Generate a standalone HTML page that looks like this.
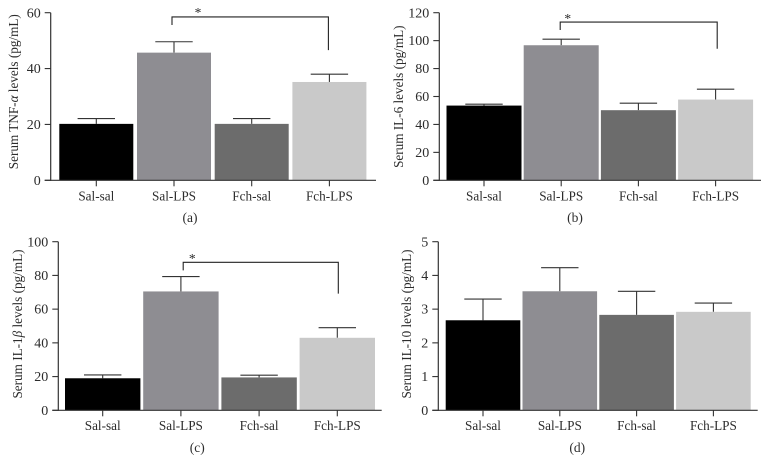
<!DOCTYPE html>
<html>
<head>
<meta charset="utf-8">
<style>
html,body{margin:0;padding:0;background:#fff;width:769px;height:462px;overflow:hidden}
svg{display:block}
text{font-family:"Liberation Serif",serif;fill:#2c2c2c}
</style>
</head>
<body>
<svg id="figure" width="769" height="462" viewBox="0 0 769 462" xmlns="http://www.w3.org/2000/svg"></svg>
<script>
const categories = ['Sal-sal', 'Sal-LPS', 'Fch-sal', 'Fch-LPS'];
const barColors = ['#000000', '#8e8d92', '#6c6c6c', '#c9c9c9'];

const tnfValues = [20.2, 45.7, 20.2, 35.2];
const tnfErrorTops = [22.1, 49.6, 22.1, 38];
const tnfTicks = [0, 20, 40, 60];

const il6Values = [53.5, 96.7, 50.2, 57.8];
const il6ErrorTops = [54.5, 101, 55.2, 65.2];
const il6Ticks = [0, 20, 40, 60, 80, 100, 120];

const il1Values = [19, 70.5, 19.5, 43];
const il1ErrorTops = [21, 79.3, 20.8, 49];
const il1Ticks = [0, 20, 40, 60, 80, 100];

const il10Values = [2.67, 3.53, 2.83, 2.92];
const il10ErrorTops = [3.3, 4.23, 3.53, 3.18];
const il10Ticks = [0, 1, 2, 3, 4, 5];

const tnfBracket = [58.5, 55.6, 46.6];
const il6Bracket = [113.3, 107.6, 94.2];
const il1Bracket = [87.8, 83, 69.2];

const panels = [
  {key:'a', title:'Serum TNF-', greek:'α', rest:' levels (pg/mL)', values:tnfValues, tops:tnfErrorTops, ticks:tnfTicks, bracket:tnfBracket,
   x0:50.7, xEnd:376, first:96.3, step:77.7, barW:74, yB:180.3, yT:12.7, titleX:18, titleY:91.7, subX:190, subY:222, tickY:200.5, offL:-2, offR:-1, starX:198, starY:17},
  {key:'b', title:'Serum IL-6 levels (pg/mL)', greek:'', rest:'', values:il6Values, tops:il6ErrorTops, ticks:il6Ticks, bracket:il6Bracket,
   x0:439.3, xEnd:761, first:484, step:77.2, barW:75, yB:180.3, yT:12.7, titleX:403, titleY:96.7, subX:575, subY:222, tickY:200.5, offL:-1, offR:1.6, starX:567.7, starY:23},
  {key:'c', title:'Serum IL-1', greek:'β', rest:' levels (pg/mL)', values:il1Values, tops:il1ErrorTops, ticks:il1Ticks, bracket:il1Bracket,
   x0:58.3, xEnd:381.7, first:102.7, step:78.2, barW:75.4, yB:410.3, yT:241.7, titleX:22, titleY:324, subX:197.3, subY:452, tickY:430, offL:2.3, offR:1, starX:192.3, starY:263},
  {key:'d', title:'Serum IL-10 levels (pg/mL)', greek:'', rest:'', values:il10Values, tops:il10ErrorTops, ticks:il10Ticks, bracket:null,
   x0:438.3, xEnd:757.7, first:483, step:76.8, barW:74.6, yB:410.3, yT:241.7, titleX:411, titleY:324, subX:577.3, subY:452, tickY:430}
];

const svg = document.getElementById('figure');
const NS = 'http://www.w3.org/2000/svg';
function make(tag, attrs, parent) {
  const el = document.createElementNS(NS, tag);
  for (const k in attrs) el.setAttribute(k, attrs[k]);
  parent.appendChild(el);
  return el;
}

panels.forEach(function (p) {
  const maxTick = p.ticks[p.ticks.length - 1];
  const yScale = function (v) { return p.yB - (v / maxTick) * (p.yB - p.yT); };
  const xScale = function (i) { return p.first + i * p.step; };

  const g = make('g', {}, svg);
  
  

  p.values.forEach(function (v, i) {
    const cx = xScale(i);
    const errTop = yScale(p.tops[i]);
    const barTop = yScale(v);

    const stem = make('line', {x1:cx, x2:cx, y1:errTop, y2:barTop, stroke:'#333', 'stroke-width':1.1}, g);
    
    

    const cap = make('line', {x1:cx - 18.7, x2:cx + 18.7, y1:errTop, y2:errTop, stroke:'#333', 'stroke-width':1.1}, g);
    
    

    const bar = make('rect', {x:cx - p.barW / 2, y:barTop, width:p.barW, height:p.yB - barTop, fill:barColors[i]}, g);
    
    

    const tick = make('line', {x1:cx, x2:cx, y1:p.yB, y2:p.yB + 6, stroke:'#333', 'stroke-width':1.1}, g);
    
    

    const label = make('text', {x:cx, y:p.tickY, 'text-anchor':'middle', 'font-size':13.2}, g);
    label.textContent = categories[i];
    
    
  });

  const yAxis = make('line', {x1:p.x0, x2:p.x0, y1:p.yT, y2:p.yB + 0.6, stroke:'#333', 'stroke-width':1.2}, g);
  
  

  const xAxis = make('line', {x1:p.x0 - 6, x2:p.xEnd, y1:p.yB, y2:p.yB, stroke:'#333', 'stroke-width':1.2}, g);
  
  

  p.ticks.forEach(function (t) {
    const y = yScale(t);
    const tick = make('line', {x1:p.x0 - 6, x2:p.x0, y1:y, y2:y, stroke:'#333', 'stroke-width':1.1}, g);
    
    

    const label = make('text', {x:p.x0 - 10, y:y + 4.6, 'text-anchor':'end', 'font-size':14}, g);
    label.textContent = t;
    
    
  });

  const title = make('text', {x:p.titleX, y:p.titleY, 'text-anchor':'middle', 'font-size':13.2, transform:'rotate(-90 ' + p.titleX + ' ' + p.titleY + ')'}, g);
  
  
  title.appendChild(document.createTextNode(p.title));
  if (p.greek) {
    const greek = make('tspan', {'font-style':'italic'}, title);
    greek.textContent = p.greek;
    title.appendChild(document.createTextNode(p.rest));
  }

  const sub = make('text', {x:p.subX, y:p.subY, 'text-anchor':'middle', 'font-size':13.5}, g);
  sub.textContent = '(' + p.key + ')';
  
  

  if (p.bracket) {
    const bx1 = xScale(1) + p.offL;
    const bx2 = xScale(3) + p.offR;
    const d = 'M' + bx1 + ' ' + yScale(p.bracket[1]) + 'V' + yScale(p.bracket[0]) + 'H' + bx2 + 'V' + yScale(p.bracket[2]);
    const bracket = make('path', {d:d, fill:'none', stroke:'#222', 'stroke-width':1.1}, g);
    
    

    const star = make('text', {x:p.starX, y:p.starY, 'text-anchor':'middle', 'font-size':13.5}, g);
    star.textContent = '*';
    
    
  }
});
</script>
</body>
</html>
